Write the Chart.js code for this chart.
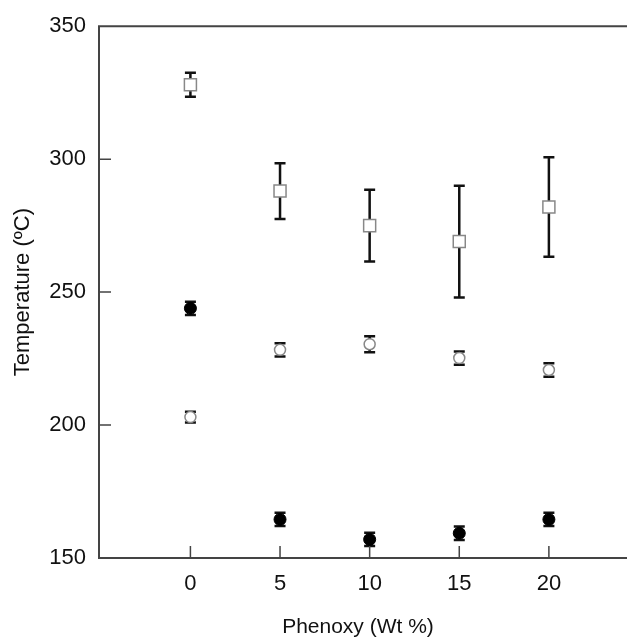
<!DOCTYPE html>
<html>
<head>
<meta charset="utf-8">
<script src="https://cdn.jsdelivr.net/npm/chart.js@4"></script>
<style>
html,body{margin:0;padding:0;background:#fff;}
#wrap{width:627px;height:638px;}
</style>
</head>
<body>
<div id="wrap"><canvas id="c" width="627" height="638"></canvas></div>
<script>
const xValues = [0, 5, 10, 15, 20];
const squareMeans = [328, 288, 275, 269, 282];
const squareErr = [4.5, 10.5, 13.5, 21, 18.7];
const openMeans = [203, 228.3, 230.4, 225.2, 220.7];
const openErr = [2, 2.5, 3, 2.5, 2.5];
const filledMeans = [243.9, 164.5, 157, 159.3, 164.5];
const filledErr = [2.5, 2.5, 2.5, 2.5, 2.5];
const xTicks = [0, 5, 10, 15, 20];
const yTicks = [150, 200, 250, 300, 350];
const xTitle = 'Phenoxy (Wt %)';
const yTitle = 'Temperature (ºC)';

const toPts = (ys) => xValues.map((x, i) => ({x: x, y: ys[i]}));
const errs = [squareErr, openErr, filledErr];

const AXIS_COLOR = '#444';

const extras = {
  id: 'extras',
  beforeDatasetsDraw(chart) {
    const ctx = chart.ctx;
    const xs = chart.scales.x, ys = chart.scales.y;
    ctx.save();
    ctx.strokeStyle = '#111';
    ctx.lineWidth = 2.5;
    chart.data.datasets.forEach((ds, di) => {
      ds.data.forEach((p, i) => {
        const e = errs[di][i];
        const px = xs.getPixelForValue(p.x);
        const top = ys.getPixelForValue(p.y + e);
        const bot = ys.getPixelForValue(p.y - e);
        ctx.beginPath();
        ctx.moveTo(px, top); ctx.lineTo(px, bot);
        ctx.moveTo(px - 5.5, top); ctx.lineTo(px + 5.5, top);
        ctx.moveTo(px - 5.5, bot); ctx.lineTo(px + 5.5, bot);
        ctx.stroke();
      });
    });
    ctx.restore();
  },
  afterDraw(chart) {
    const ctx = chart.ctx;
    const a = chart.chartArea;
    const xs = chart.scales.x, ys = chart.scales.y;
    ctx.save();
    ctx.strokeStyle = AXIS_COLOR;
    ctx.lineWidth = 2;
    ctx.beginPath();
    ctx.moveTo(a.left, a.top); ctx.lineTo(chart.width, a.top);
    ctx.moveTo(a.left, a.top - 1); ctx.lineTo(a.left, a.bottom);
    ctx.lineTo(chart.width, a.bottom);
    ctx.stroke();
    ctx.lineWidth = 1.5;
    ctx.beginPath();
    xTicks.forEach(v => {
      const px = xs.getPixelForValue(v);
      ctx.moveTo(px, a.bottom); ctx.lineTo(px, a.bottom - 12);
    });
    yTicks.forEach(v => {
      if (v === 150 || v === 350) return;
      const py = ys.getPixelForValue(v);
      ctx.moveTo(a.left, py); ctx.lineTo(a.left + 12, py);
    });
    ctx.stroke();
    ctx.restore();
  }
};

new Chart(document.getElementById('c'), {
  type: 'scatter',
  data: {
    datasets: [
      {
        label: 'square',
        data: toPts(squareMeans),
        pointStyle: 'rect',
        pointRadius: 8.5,
        pointBackgroundColor: '#fff',
        pointBorderColor: '#888',
        pointBorderWidth: 1.5,
        showLine: false
      },
      {
        label: 'open circle',
        data: toPts(openMeans),
        pointStyle: 'circle',
        pointRadius: 5.5,
        pointBackgroundColor: '#fff',
        pointBorderColor: '#888',
        pointBorderWidth: 1.5,
        showLine: false
      },
      {
        label: 'filled circle',
        data: toPts(filledMeans),
        pointStyle: 'circle',
        pointRadius: 6,
        pointBackgroundColor: '#000',
        pointBorderColor: '#000',
        pointBorderWidth: 1,
        showLine: false
      }
    ]
  },
  options: {
    responsive: false,
    animation: false,
    devicePixelRatio: 1,
    layout: {padding: {top: 23, right: 0, left: 0, bottom: 0}},
    plugins: {legend: {display: false}, tooltip: {enabled: false}},
    scales: {
      x: {
        type: 'linear',
        min: -5.1,
        max: 23.8,
        afterBuildTicks: (s) => { s.ticks = xTicks.map(v => ({value: v})); },
        afterFit: (s) => { s.height = 80; s.paddingRight = 0; s.paddingLeft = 0; },
        grid: {display: false, drawTicks: false},
        border: {display: false},
        ticks: {
          color: '#111',
          font: {family: 'Liberation Sans', size: 22},
          padding: 13,
          maxRotation: 0
        },
        title: {
          display: true,
          text: xTitle,
          color: '#111',
          font: {family: 'Liberation Sans', size: 21},
          padding: {top: 0, bottom: -2}
        }
      },
      y: {
        type: 'linear',
        min: 150,
        max: 350,
        afterBuildTicks: (s) => { s.ticks = yTicks.map(v => ({value: v})); },
        afterFit: (s) => { s.width = 99; },
        grid: {display: false, drawTicks: false},
        border: {display: false},
        ticks: {
          color: '#111',
          font: {family: 'Liberation Sans', size: 22},
          padding: 13
        },
        title: {
          display: true,
          text: yTitle,
          color: '#111',
          font: {family: 'Liberation Sans', size: 22},
          padding: {top: 10, bottom: 0}
        }
      }
    }
  },
  plugins: [extras]
});
</script>
</body>
</html>
